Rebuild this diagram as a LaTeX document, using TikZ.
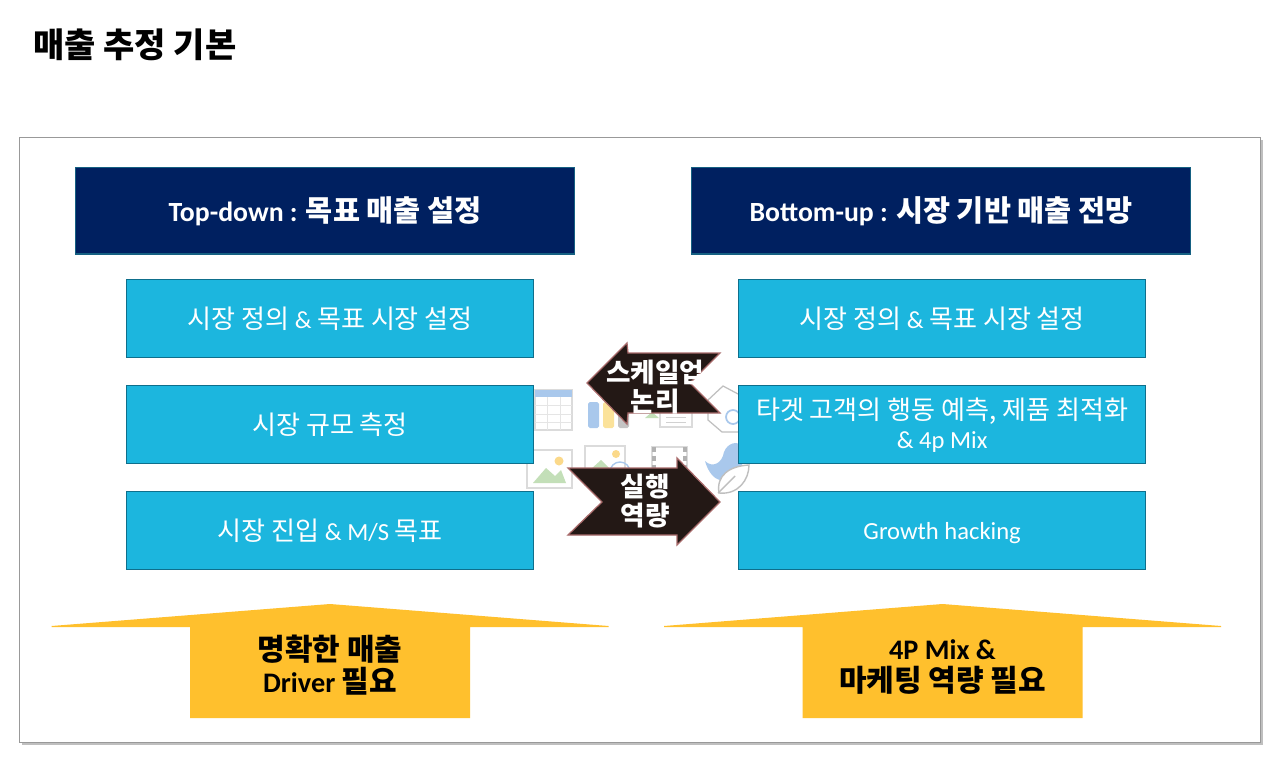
\documentclass[tikz,border=0pt]{standalone}
\usepackage{fontspec}
\setmainfont{Carlito}
\newfontfamily\kr[Scale=1.06]{Noto Sans CJK KR}
\definecolor{navybox}{HTML}{002060}
\definecolor{navyline}{HTML}{156082}
\definecolor{cyanbox}{HTML}{1CB6DE}
\definecolor{cyanline}{HTML}{0E6F8C}
\definecolor{goldbox}{HTML}{FFC02D}
\definecolor{darkarrow}{HTML}{231815}
\definecolor{arrowline}{HTML}{A86A6A}
\definecolor{iconblue}{HTML}{A9C8EC}
\definecolor{iconyellow}{HTML}{FBE29A}
\definecolor{icongreen}{HTML}{C3DFB8}
\definecolor{iconorange}{HTML}{FBD98A}
\definecolor{icongray}{HTML}{C4C4C4}
\tikzset{
  headbox/.style={draw=navyline,line width=0.6pt,fill=navybox,text=white,minimum width=9.99cm,minimum height=1.73cm,anchor=north west,font=\fontsize{15.8}{19}\selectfont\bfseries},
  stepbox/.style={draw=cyanline,line width=0.5pt,fill=cyanbox,text=white,minimum width=8.15cm,minimum height=1.57cm,anchor=north west,align=center,font=\fontsize{14}{17.5}\selectfont},
  goldarrow/.style={fill=goldbox},
  darkshape/.style={draw=arrowline,line width=0.7pt,fill=darkarrow},
  arrowtext/.style={text=white,align=center,font=\fontsize{14.3}{16}\selectfont\bfseries},
  goldtext/.style={text=black,align=center,font=\fontsize{16.1}{18.5}\selectfont\bfseries},
  faint/.style={draw=black!14,line width=0.7pt,fill=white},
}
\begin{document}
\begin{tikzpicture}[x=0.02cm,y=-0.02cm,line join=miter]
  \useasboundingbox (0,0) rectangle (1280,760);
  \fill[white] (0,0) rectangle (1280,760);
  % panel
  \fill[black!25] (22,140) rectangle (1263,745);
  \draw[draw=black!40,fill=white,line width=0.5pt] (19.5,137.5) rectangle (1260.5,742);
  \node[anchor=west,inner sep=0pt,font=\fontsize{18.25}{22}\selectfont\bfseries\kr] (title) at (33,45) {매출 추정 기본};
  % faint icons
  \draw[faint] (535,390) rectangle (572,430);
  \fill[iconblue] (535,390) rectangle (572,397);
  \foreach \x in {547,560}\draw[black!10] (\x,397)--(\x,430);
  \foreach \y in {405,414,422}\draw[black!10] (535,\y)--(572,\y);
  \fill[iconblue,rounded corners=1pt] (588,402) rectangle (599,428);
  \fill[iconyellow,rounded corners=1pt] (603,402) rectangle (614,428);
  \fill[icongray,rounded corners=1pt] (618,402) rectangle (629,428);
  \fill[icongreen] (645,418)--(652,412)--(659,418)--cycle;
  \draw[faint] (660,400) rectangle (692,427);
  \foreach \y in {417,422}\draw[black!18] (666,\y)--(686,\y);
  \draw[black!25,line width=0.7pt] (708,400)--(723,386)--(738,394) (708,400)--(708,420)--(722,432)--(738,432);
  \draw[iconblue,line width=1pt] (733,417) circle (7);
  \draw[faint] (527,450) rectangle (572,488);
  \fill[icongreen] (533,483)--(546,468)--(555,476)--(561,470)--(566,483)--cycle;
  \fill[iconorange] (559,461) circle (4.5);
  \draw[faint] (585,446) rectangle (625,485);
  \fill[icongreen] (590,470)--(601,460)--(611,470)--cycle;
  \fill[iconorange] (616,454) circle (4);
  \draw[iconblue,line width=0.8pt] (620,472) circle (10);
  \draw[faint] (652,447) rectangle (687,480);
  \draw[black!30,line width=2.5pt,dash pattern=on 3pt off 2pt] (654,447)--(654,480) (685,447)--(685,480);
  \fill[iconblue] (705,461) .. controls (712,468) and (722,464) .. (724,452) .. controls (728,442) and (738,441) .. (742,446) -- (742,480) -- (725,480) .. controls (715,482) and (708,472) .. (705,461) -- cycle;
  % heads
  \node[headbox] (leftHead) at (75,167) {Top-down : {\kr 목표 매출 설정}};
  \node[headbox] (rightHead) at (691,167) {Bottom-up : {\kr 시장 기반 매출 전망}};
  % steps
  \foreach \nm/\x/\y/\txt in {
    leftA/126/279/{{\kr 시장 정의} \& {\kr 목표 시장 설정}},
    leftB/126/385/{\kr 시장 규모 측정},
    leftC/126/491/{{\kr 시장 진입} \& M/S {\kr 목표}},
    rightA/738/279/{{\kr 시장 정의} \& {\kr 목표 시장 설정}},
    rightB/738/385/{{\kr 타겟 고객의 행동 예측, 제품 최적화}\\[-1pt]\& 4p Mix},
    rightC/738/491/{\vphantom{\kr 시}Growth hacking}}
    \node[stepbox] (\nm) at (\x,\y) {\txt};
  % leaf over the gap
  \draw[draw=black!25,line width=0.8pt,fill=white] (719,493) .. controls (716,475) and (730,466) .. (749,465) .. controls (749,480) and (738,495) .. (719,493) -- cycle;
  \draw[black!25,line width=0.8pt] (718,493)--(735,476);
  % middle arrows
  \draw[darkshape] (587,383)--(627,343)--(628,353)--(720,353)--(690,383)--(720,413)--(628,413)--(627,424)--cycle;
  \node[arrowtext] (scaleLabel) at (655,387) {\kr 스케일업\\\kr 논리};
  \draw[darkshape] (568,468)--(677,468)--(677,458)--(720,502)--(677,545)--(677,535)--(568,535)--(602,502)--cycle;
  \node[arrowtext] (execLabel) at (645,501) {\kr 실행\\\kr 역량};
  % up arrows
  \foreach \x in {330,942.5}
    \fill[goldarrow] (\x,604)--(\x+278.5,626)--(\x+278.5,627)--(\x+140,627)--(\x+140,718)--(\x-140,718)--(\x-140,627)--(\x-278.5,627)--(\x-278.5,626)--cycle;
  \node[goldtext] (leftNeed) at (330,665) {\kr 명확한 매출\\Driver {\kr 필요}};
  \node[goldtext] (rightNeed) at (942.5,667) {4P Mix \&\\\kr 마케팅 역량 필요};
\end{tikzpicture}
\end{document}
